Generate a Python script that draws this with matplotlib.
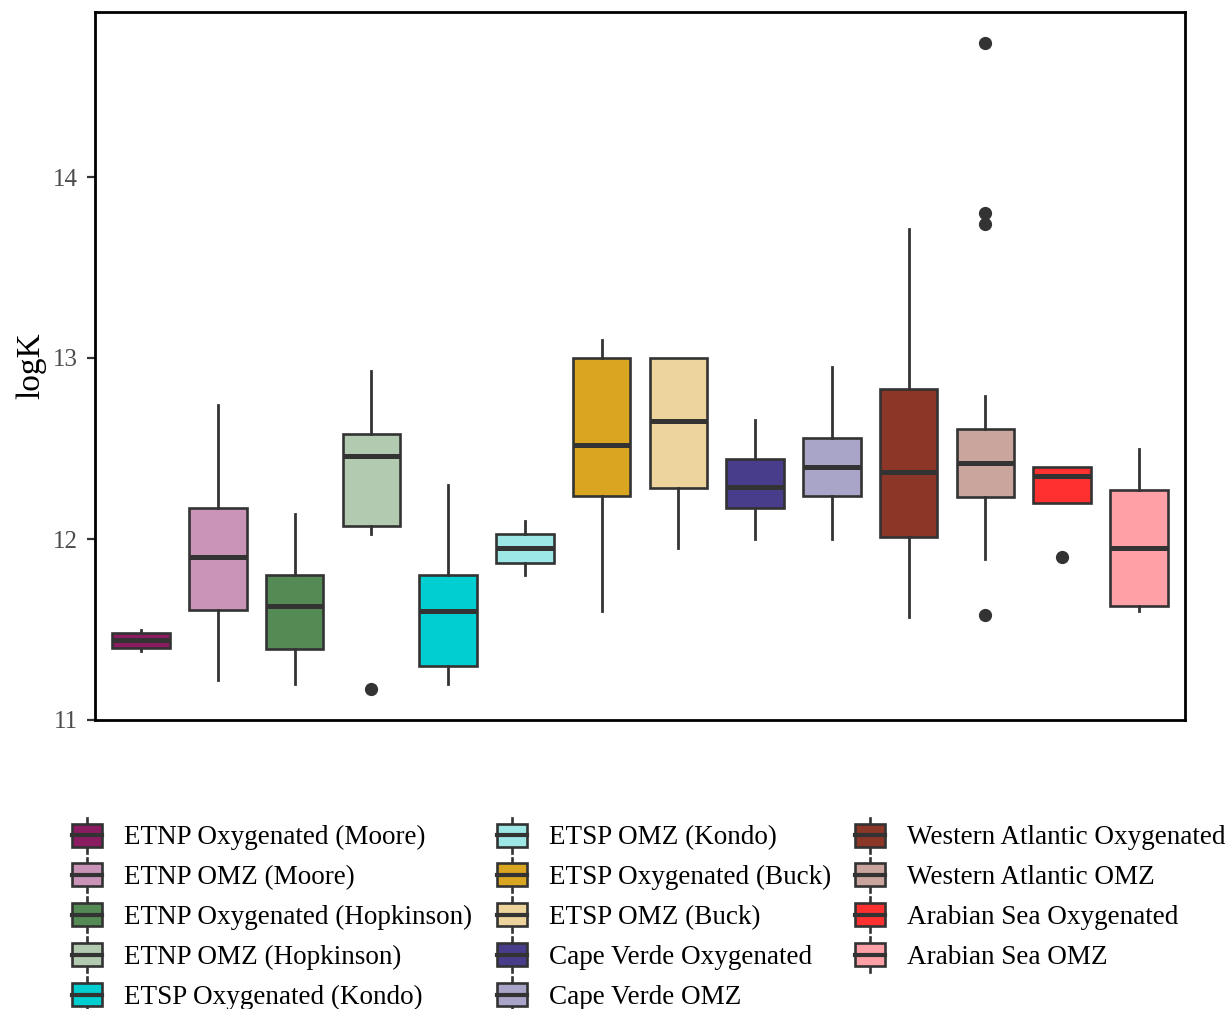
import matplotlib
matplotlib.use("Agg")
import matplotlib.pyplot as plt
from matplotlib.patches import Rectangle, Patch
from matplotlib.lines import Line2D
from matplotlib.legend_handler import HandlerBase

plt.rcParams['font.family'] = ['Liberation Serif', 'DejaVu Serif']

# Groups (legend order, left to right on the axis)
groups = [
    "ETNP Oxygenated (Moore)", "ETNP OMZ (Moore)",
    "ETNP Oxygenated (Hopkinson)", "ETNP OMZ (Hopkinson)",
    "ETSP Oxygenated (Kondo)", "ETSP OMZ (Kondo)",
    "ETSP Oxygenated (Buck)", "ETSP OMZ (Buck)",
    "Cape Verde Oxygenated", "Cape Verde OMZ",
    "Western Atlantic Oxygenated", "Western Atlantic OMZ",
    "Arabian Sea Oxygenated", "Arabian Sea OMZ",
]

# Box statistics of logK for each group
whisker_low = [11.38, 11.22, 11.20, 12.03, 11.20, 11.80, 11.60, 11.95, 12.00, 12.00, 11.57, 11.89, 12.20, 11.60]
q1 =          [11.40, 11.61, 11.39, 12.07, 11.30, 11.87, 12.24, 12.28, 12.17, 12.24, 12.01, 12.23, 12.20, 11.63]
median =      [11.44, 11.90, 11.63, 12.46, 11.60, 11.95, 12.52, 12.65, 12.29, 12.40, 12.37, 12.42, 12.35, 11.95]
q3 =          [11.48, 12.17, 11.80, 12.58, 11.80, 12.03, 13.00, 13.00, 12.44, 12.56, 12.83, 12.61, 12.40, 12.27]
whisker_high = [11.50, 12.74, 12.14, 12.93, 12.30, 12.10, 13.10, 13.00, 12.66, 12.95, 13.71, 12.79, 12.40, 12.50]
outliers = [[], [], [], [11.17], [], [], [], [], [], [], [], [14.74, 13.80, 13.74, 11.58], [11.90], []]

colors = ['#8B1C62', '#C994B7', '#548B54', '#B2CAB0', '#00CED1', '#9EE7E7', '#DAA520',
          '#EDD39C', '#483D8B', '#A9A5C9', '#8B3626', '#C9A59E', '#FF3030', '#FFA0A6']

yticks = [11, 12, 13, 14]

EDGE = '#333333'

fig = plt.figure(figsize=(12.30, 10.09), dpi=100)
ax = fig.add_axes([95 / 1230, 1 - 720 / 1009, 1090 / 1230, 708 / 1009])

stats = []
for i, name in enumerate(groups):
    stats.append(dict(label=name, whislo=whisker_low[i], q1=q1[i], med=median[i],
                      q3=q3[i], whishi=whisker_high[i], fliers=outliers[i]))

positions = list(range(1, len(groups) + 1))
bp = ax.bxp(stats, positions=positions, widths=0.75, patch_artist=True,
            showcaps=False, showfliers=True,
            boxprops=dict(edgecolor=EDGE, linewidth=1.9),
            whiskerprops=dict(color=EDGE, linewidth=2.0),
            medianprops=dict(color=EDGE, linewidth=3.6, solid_capstyle='butt'),
            flierprops=dict(marker='o', markerfacecolor=EDGE, markeredgecolor=EDGE,
                            markersize=8.5))
for patch, c in zip(bp['boxes'], colors):
    patch.set_facecolor(c)
    patch.set_zorder(2)
for ln in bp['medians']:
    ln.set_zorder(3)

ax.set_xlim(0.4, 14.6)
ax.set_ylim(11, 11 + (720 - 12) / 181)
ax.set_xticks([])
ax.set_yticks(yticks)
ax.set_yticklabels([str(t) for t in yticks])
ax.tick_params(axis='y', length=6, width=1.6, color='#333333', labelcolor='#4D4D4D',
               labelsize=18, pad=6)
for s in ax.spines.values():
    s.set_linewidth(2.0)
    s.set_color('black')
ax.set_ylabel('logK', fontsize=24, color='black', labelpad=5)


class BoxKeyHandler(HandlerBase):
    def create_artists(self, legend, orig_handle, xdescent, ydescent, width, height,
                       fontsize, trans):
        x0, y0 = -xdescent, -ydescent
        cy = y0 + height / 2
        bh = height * 0.95
        rect = Rectangle((x0, cy - bh / 2), width, bh, facecolor=orig_handle.get_facecolor(),
                         edgecolor=EDGE, linewidth=1.9, transform=trans)
        med = Line2D([x0, x0 + width], [cy, cy], color=EDGE, linewidth=3.0, transform=trans)
        cx = x0 + width / 2
        w_top = Line2D([cx, cx], [cy + bh / 2, cy + height * 0.72], color=EDGE,
                       linewidth=1.9, transform=trans)
        w_bot = Line2D([cx, cx], [cy - bh / 2, cy - height * 0.72], color=EDGE,
                       linewidth=1.9, transform=trans)
        return [w_top, w_bot, rect, med]


handles = [Patch(facecolor=c) for c in colors]
col_splits = [(0, 5, 72), (5, 10, 497), (10, 14, 855)]
for start, stop, xpix in col_splits:
    fig.legend(handles[start:stop], groups[start:stop],
               handler_map={Patch: BoxKeyHandler()},
               loc='upper left', bbox_to_anchor=(xpix / 1230, 1 - 823 / 1009),
               frameon=False, fontsize=19.5, borderpad=0, borderaxespad=0,
               handlelength=1.12, handleheight=1.0, handletextpad=0.8,
               labelspacing=0.46)

fig.savefig('out.png', dpi=100)
